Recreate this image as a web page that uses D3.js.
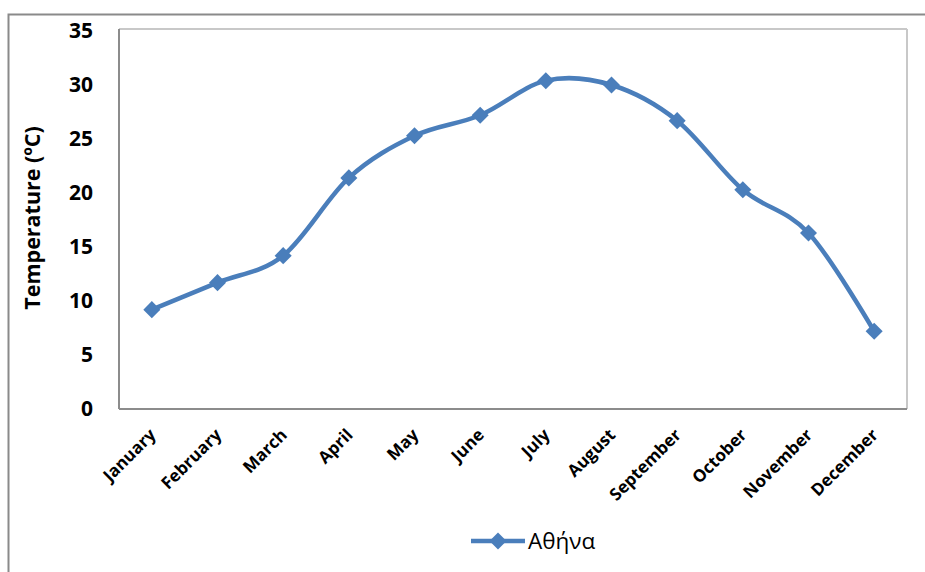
<!DOCTYPE html>
<html><head><meta charset="utf-8">
<script src="https://cdn.jsdelivr.net/npm/d3@7"></script>
<style>body{margin:0;background:#fff}svg{display:block}</style>
</head><body><svg id="c" width="925" height="572"></svg>
<script>
const months = ["January","February","March","April","May","June","July","August","September","October","November","December"];
const temps = [9.2, 11.7, 14.2, 21.4, 25.3, 27.2, 30.4, 30.0, 26.7, 20.3, 16.3, 7.2];
const yTicks = [0,5,10,15,20,25,30,35];
const seriesName = "Αθήνα";
const yTitle = "Temperature (ºC)";

const svg = d3.select("#c");
const L=119, R=907, T=29, B=409;
const font = "'Open Sans', 'Liberation Sans', sans-serif";
const blue = "#4a7ebb";

// outer frame
svg.append("rect").attr("x",8.5).attr("y",14.5).attr("width",940).attr("height",600)
  .attr("fill","none").attr("stroke","#8a8a8a").attr("stroke-width",2);

const x = d3.scaleBand().domain(months).range([L,R]);
const y = d3.scaleLinear().domain([0,35]).range([B,31]);

// plot area border
svg.append("line").attr("x1",L).attr("x2",R).attr("y1",T).attr("y2",T).attr("stroke","#c8c8c8").attr("stroke-width",2);
svg.append("line").attr("x1",R).attr("x2",R).attr("y1",T).attr("y2",B).attr("stroke","#c8c8c8").attr("stroke-width",2);
svg.append("line").attr("x1",L).attr("x2",L).attr("y1",T).attr("y2",B).attr("stroke","#8c8c8c").attr("stroke-width",2);
svg.append("line").attr("x1",L).attr("x2",R).attr("y1",B).attr("y2",B).attr("stroke","#8c8c8c").attr("stroke-width",2);

// y axis
const ya = svg.append("g").attr("transform",`translate(${L},0)`)
  .call(d3.axisLeft(y).tickValues(yTicks).tickSize(0).tickPadding(26));
ya.select(".domain").remove();
ya.selectAll("text").attr("font-family",font).attr("font-weight","bold").attr("font-size",21).attr("fill","#000");

// x axis
const xa = svg.append("g").attr("transform",`translate(0,${B})`)
  .call(d3.axisBottom(x).tickSize(0).tickPadding(0));
xa.select(".domain").remove();
xa.selectAll("text").attr("font-family",font).attr("font-weight","bold").attr("font-size",17).attr("fill","#000")
  .attr("text-anchor","end").attr("dy",0)
  .attr("transform","translate(5,27) rotate(-45)");

// y title
svg.append("text").attr("transform","translate(40,218) rotate(-90)")
  .attr("text-anchor","middle").attr("font-family",font).attr("font-weight","bold").attr("font-size",21.5)
  .text(yTitle);

// line
const line = d3.line().x((d,i)=>x(months[i])+x.bandwidth()/2).y(d=>y(d)).curve(d3.curveCardinal.tension(0));
svg.append("path").datum(temps).attr("d",line).attr("fill","none").attr("stroke",blue).attr("stroke-width",4.5);

const diamond = d3.symbol().type(d3.symbolDiamond2).size(185);
svg.selectAll(".m").data(temps).join("path")
  .attr("transform",(d,i)=>`translate(${x(months[i])+x.bandwidth()/2},${y(d)})`)
  .attr("d",diamond).attr("fill",blue);

// legend
const lg = svg.append("g");
lg.append("line").attr("x1",471).attr("x2",525).attr("y1",541).attr("y2",541).attr("stroke",blue).attr("stroke-width",4.5);
lg.append("path").attr("transform","translate(498,541)").attr("d",diamond).attr("fill",blue);
lg.append("text").attr("x",528).attr("y",549).attr("font-family",font).attr("font-size",22.5).text(seriesName);
</script></body></html>
